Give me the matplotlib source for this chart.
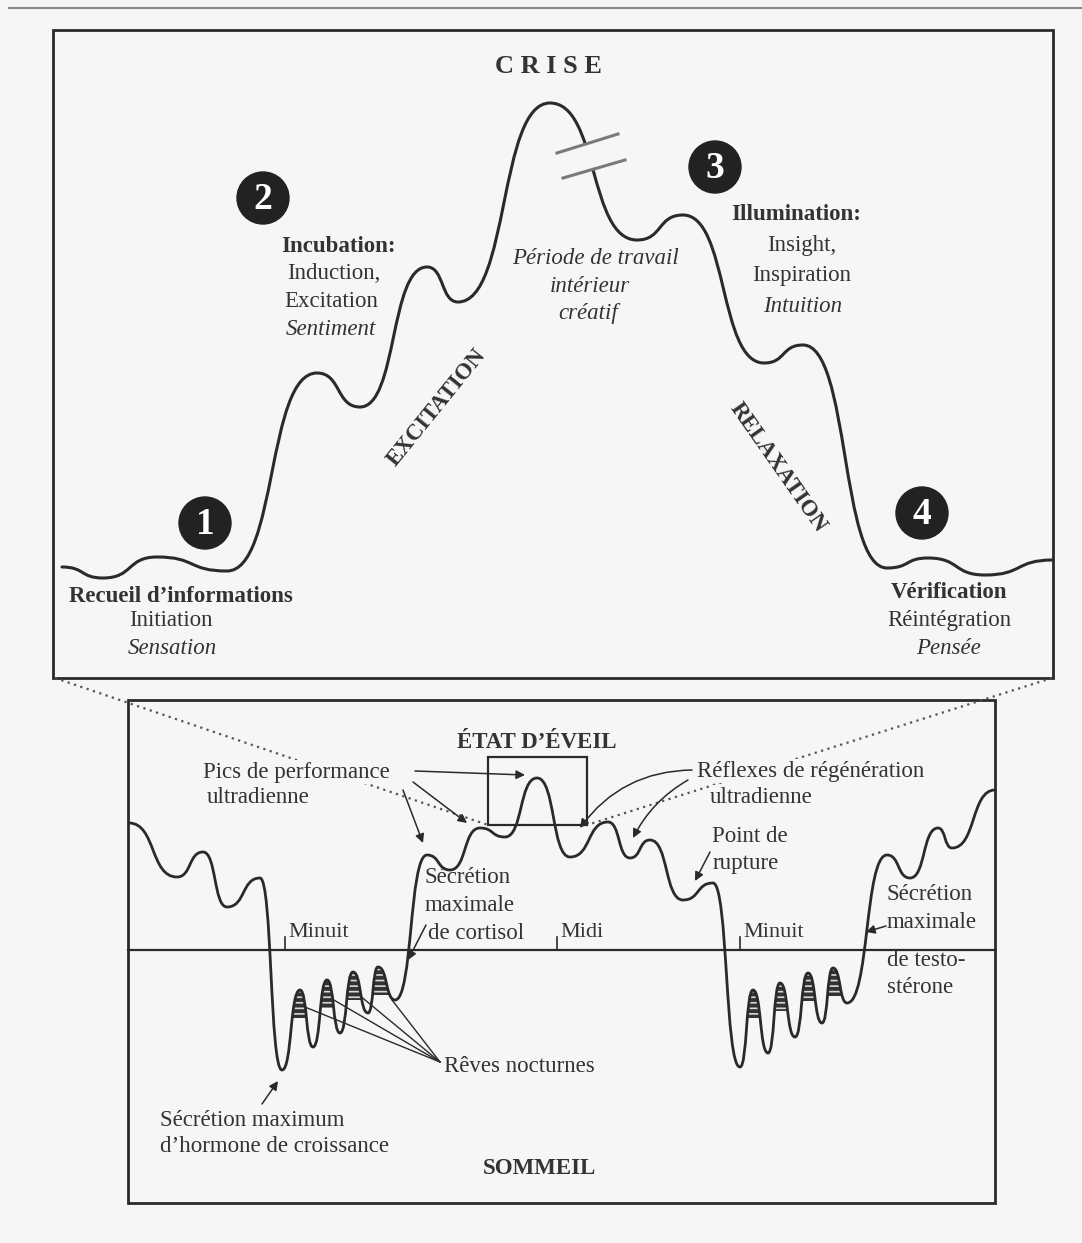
import matplotlib
matplotlib.use("Agg")
import matplotlib.pyplot as plt
from matplotlib.path import Path
from matplotlib.patches import PathPatch, Rectangle, Circle, Polygon

plt.rcParams['font.family'] = ['Liberation Serif', 'DejaVu Serif']
plt.rcParams['hatch.linewidth'] = 1.2

# creative cycle curve (peaks and troughs, image pixels)
top_x = [62, 103, 157, 227, 317, 360, 427, 458, 550, 637, 683, 764, 803, 887, 928, 985, 1053]
top_y = [567, 578, 557, 571, 373, 407, 267, 302, 103, 240, 215, 363, 345, 568, 558, 575, 560]

# 24h ultradian curve (peaks and troughs, image pixels)
day_x = [129, 177, 203, 227, 260, 282, 300, 313, 327, 340, 353, 368, 378, 395, 427, 450, 480, 505,
         537, 570, 608, 630, 650, 683, 713, 740, 753, 768, 780, 795, 808, 822, 833, 847, 887, 910,
         938, 952, 995]
day_y = [823, 877, 852, 907, 878, 1070, 990, 1047, 980, 1033, 972, 1013, 967, 1000, 855, 870, 828, 837,
         778, 857, 822, 858, 840, 900, 883, 1067, 990, 1053, 983, 1037, 973, 1023, 968, 1003, 855, 878,
         828, 848, 790]
dream_idx = [6, 8, 10, 12, 26, 28, 30, 32]

phase_nums = ['1', '2', '3', '4']
phase_pos = [(205, 523), (263, 198), (715, 167), (922, 513)]

time_labels = ['Minuit', 'Midi', 'Minuit']
time_ticks = [285, 557, 740]

BG = '#f6f6f6'
INK = '#2a2a2a'
TXT = '#333333'


def wave_path(xs, ys, k=0.56):
    verts = [(xs[0], ys[0])]
    codes = [Path.MOVETO]
    for i in range(len(xs) - 1):
        dx = xs[i + 1] - xs[i]
        verts += [(xs[i] + k * dx, ys[i]), (xs[i + 1] - k * dx, ys[i + 1]), (xs[i + 1], ys[i + 1])]
        codes += [Path.CURVE4] * 3
    return Path(verts, codes)


fig = plt.figure(figsize=(10.82, 12.43), dpi=100)
fig.patch.set_facecolor(BG)
ax = fig.add_axes([0, 0, 1, 1])
ax.set_xlim(0, 1082)
ax.set_ylim(1243, 0)
ax.axis('off')

# page edge at top
ax.plot([9, 1082], [8, 8], color='#8a8a8a', lw=1.5)

# frames
ax.add_patch(Rectangle((53, 30), 1000, 648, fill=False, ec=INK, lw=2))
ax.add_patch(Rectangle((128, 700), 867, 503, fill=False, ec=INK, lw=2))

# zoom lines (dotted) and small window
ax.plot([55, 488], [678, 825], color='#555555', lw=1.6, ls=(0, (1, 2)), zorder=1)
ax.plot([1052, 587], [678, 825], color='#555555', lw=1.6, ls=(0, (1, 2)), zorder=1)
ax.add_patch(Rectangle((488, 757), 99, 68, fill=False, ec=INK, lw=1.6, zorder=3))

# ---- top curve
ax.add_patch(PathPatch(wave_path(top_x, top_y), fill=False, ec=INK, lw=2.2, capstyle='round', zorder=2))

# break marks on the curve
ax.add_patch(Polygon([(552, 154), (620, 135), (628, 160), (560, 179)], closed=True, fc=BG, ec='none', zorder=3))
ax.plot([557, 618], [153, 134], color='#7a7a7a', lw=2.2, zorder=4)
ax.plot([563, 625], [178, 160], color='#7a7a7a', lw=2.2, zorder=4)

for num, (cx, cy) in zip(phase_nums, phase_pos):
    ax.add_patch(Circle((cx, cy), 26, fc='#222222', ec='#222222', zorder=5))
    ax.text(cx, cy + 1, num, color='white', fontsize=27, fontweight='bold', ha='center', va='center', zorder=6)

ax.text(548, 66, 'C R I S E', fontsize=19, fontweight='bold', color=TXT, ha='center', va='center')

ax.text(338, 246, 'Incubation:', fontsize=16.5, fontweight='bold', color=TXT, ha='center', va='center')
ax.text(334, 273, 'Induction,', fontsize=16.5, color=TXT, ha='center', va='center')
ax.text(331, 301, 'Excitation', fontsize=16.5, color=TXT, ha='center', va='center')
ax.text(331, 329, 'Sentiment', fontsize=16.5, style='italic', color=TXT, ha='center', va='center')

ax.text(595, 258, 'Période de travail', fontsize=16.5, style='italic', color=TXT, ha='center', va='center')
ax.text(590, 286, 'intérieur', fontsize=16.5, style='italic', color=TXT, ha='center', va='center')
ax.text(588, 313, 'créatif', fontsize=16.5, style='italic', color=TXT, ha='center', va='center')

ax.text(796, 214, 'Illumination:', fontsize=16.5, fontweight='bold', color=TXT, ha='center', va='center')
ax.text(802, 245, 'Insight,', fontsize=16.5, color=TXT, ha='center', va='center')
ax.text(802, 275, 'Inspiration', fontsize=16.5, color=TXT, ha='center', va='center')
ax.text(803, 306, 'Intuition', fontsize=16.5, style='italic', color=TXT, ha='center', va='center')

ax.text(437, 408, 'EXCITATION', fontsize=16.5, fontweight='bold', color=TXT, rotation=51,
        ha='center', va='center', rotation_mode='anchor')
ax.text(778, 468, 'RELAXATION', fontsize=16.5, fontweight='bold', color=TXT, rotation=-55,
        ha='center', va='center', rotation_mode='anchor')

ax.text(181, 596, "Recueil d’informations", fontsize=16.5, fontweight='bold', color=TXT, ha='center', va='center')
ax.text(171, 620, 'Initiation', fontsize=16.5, color=TXT, ha='center', va='center')
ax.text(172, 648, 'Sensation', fontsize=16.5, style='italic', color=TXT, ha='center', va='center')

ax.text(949, 592, 'Vérification', fontsize=16.5, fontweight='bold', color=TXT, ha='center', va='center')
ax.text(949, 620, 'Réintégration', fontsize=16.5, color=TXT, ha='center', va='center')
ax.text(948, 648, 'Pensée', fontsize=16.5, style='italic', color=TXT, ha='center', va='center')

# ---- lower curve
day_path = wave_path(day_x, day_y)
ax.add_patch(PathPatch(day_path, fill=False, ec=INK, lw=2.0, zorder=4))

# hatched tips of the dream peaks
for i in dream_idx:
    sub = wave_path(day_x[i - 1:i + 2], day_y[i - 1:i + 2])
    clip = PathPatch(Path(list(sub.vertices) + [sub.vertices[0]], list(sub.codes) + [Path.CLOSEPOLY]),
                     fc='none', ec='none')
    ax.add_patch(clip)
    tip = Rectangle((day_x[i] - 16, day_y[i] - 2), 32, 30, fc='#333333', ec='#d8d8d8', lw=0,
                    hatch='---', zorder=3)
    ax.add_patch(tip)
    tip.set_clip_path(clip)

# midline and time ticks
ax.plot([128, 995], [950, 950], color=INK, lw=1.6, zorder=2)
for lab, tx in zip(time_labels, time_ticks):
    ax.plot([tx, tx], [937, 950], color=INK, lw=1.2)
    ax.text(tx + 3, 932, lab, fontsize=16, color=TXT, ha='left', va='center')

tbox = dict(boxstyle='square,pad=0.05', fc=BG, ec='none')
ax.text(537, 742, 'ÉTAT D’ÉVEIL', fontsize=16.5, fontweight='bold', color=TXT, ha='center', va='center')
ax.text(539, 1168, 'SOMMEIL', fontsize=16.5, fontweight='bold', color=TXT, ha='center', va='center')

ax.text(203, 772, 'Pics de performance', fontsize=16.5, color=TXT, ha='left', va='center', bbox=tbox, zorder=2)
ax.text(207, 797, 'ultradienne', fontsize=16.5, color=TXT, ha='left', va='center', bbox=tbox, zorder=2)
ax.text(697, 771, 'Réflexes de régénération', fontsize=16.5, color=TXT, ha='left', va='center', bbox=tbox, zorder=2)
ax.text(710, 797, 'ultradienne', fontsize=16.5, color=TXT, ha='left', va='center', bbox=tbox, zorder=2)
ax.text(712, 836, 'Point de', fontsize=16.5, color=TXT, ha='left', va='center')
ax.text(713, 863, 'rupture', fontsize=16.5, color=TXT, ha='left', va='center')
ax.text(425, 877, 'Sécrétion', fontsize=16.5, color=TXT, ha='left', va='center')
ax.text(425, 905, 'maximale', fontsize=16.5, color=TXT, ha='left', va='center')
ax.text(428, 933, 'de cortisol', fontsize=16.5, color=TXT, ha='left', va='center')
ax.text(887, 894, 'Sécrétion', fontsize=16.5, color=TXT, ha='left', va='center')
ax.text(887, 922, 'maximale', fontsize=16.5, color=TXT, ha='left', va='center')
ax.text(887, 960, 'de testo-', fontsize=16.5, color=TXT, ha='left', va='center')
ax.text(887, 987, 'stérone', fontsize=16.5, color=TXT, ha='left', va='center')
ax.text(444, 1067, 'Rêves nocturnes', fontsize=16.5, color=TXT, ha='left', va='center')
ax.text(160, 1120, 'Sécrétion maximum', fontsize=16.5, color=TXT, ha='left', va='center')
ax.text(160, 1147, 'd’hormone de croissance', fontsize=16.5, color=TXT, ha='left', va='center')

arrow = dict(arrowstyle='-|>', color=INK, lw=1.1, mutation_scale=13, shrinkA=0, shrinkB=0)
ax.annotate('', xy=(525, 775), xytext=(415, 771), arrowprops=arrow)
ax.annotate('', xy=(467, 823), xytext=(413, 782), arrowprops=arrow)
ax.annotate('', xy=(423, 843), xytext=(403, 790), arrowprops=arrow)
ax.annotate('', xy=(580, 828), xytext=(692, 770), arrowprops=dict(arrow, connectionstyle='arc3,rad=0.25'))
ax.annotate('', xy=(633, 838), xytext=(688, 780), arrowprops=dict(arrow, connectionstyle='arc3,rad=0.15'))
ax.annotate('', xy=(695, 881), xytext=(710, 852), arrowprops=arrow)
ax.annotate('', xy=(408, 960), xytext=(426, 925), arrowprops=arrow)
ax.annotate('', xy=(866, 932), xytext=(886, 926), arrowprops=arrow)
ax.annotate('', xy=(278, 1081), xytext=(262, 1104), arrowprops=arrow)

# dream label rays
for px, py in [(300, 1005), (327, 996), (353, 990), (392, 1000)]:
    ax.plot([440, px], [1062, py], color=INK, lw=1.0, zorder=2)

fig.savefig('out.png', dpi=100, facecolor=BG)
